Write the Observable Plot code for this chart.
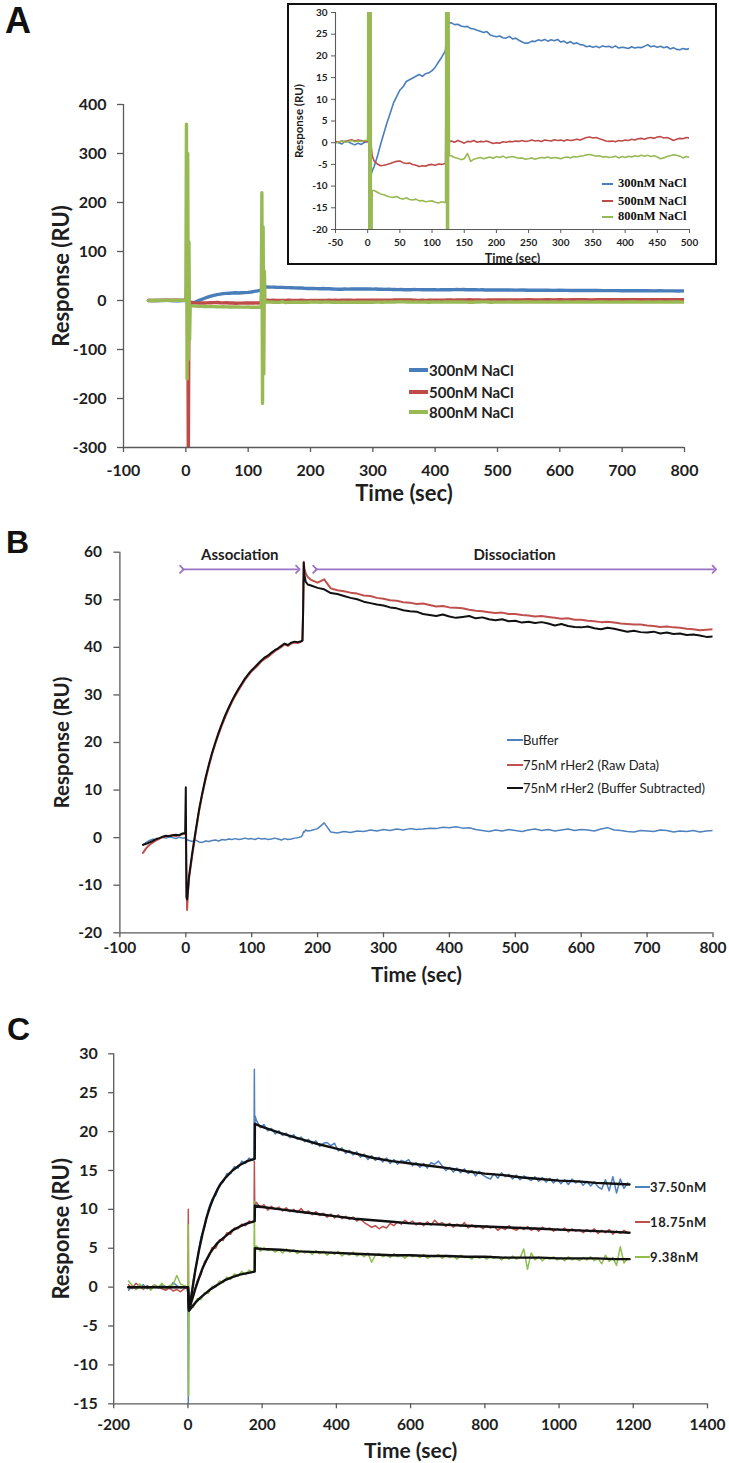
<!DOCTYPE html>
<html><head><meta charset="utf-8">
<script src="https://cdn.jsdelivr.net/npm/d3@7"></script>
<script src="https://cdn.jsdelivr.net/npm/@observablehq/plot@0.6"></script>
<style>
html,body{margin:0;padding:0;background:#fff;}
#page{position:relative;width:729px;height:1463px;overflow:hidden;font-family:Lato,sans-serif;color:#1e1e1e;}
.plab{position:absolute;font-family:"Liberation Sans",Arial,sans-serif;font-weight:bold;line-height:1;color:#111;}
.leg{position:absolute;white-space:nowrap;line-height:1;}
.sw{position:absolute;}
</style></head><body><div id="page"></div>
<script>
// ---------------- Panel A: NaCl concentrations ----------------
const saltNames = ["300nM NaCl", "500nM NaCl", "800nM NaCl"];
const saltColors = ["#4a7ebb", "#be4b48", "#98b954"];
const tA = [...d3.range(-60, 0, 5), 0, 1, 2, 3, 4, 5, 6, 7, ...d3.range(10, 121, 5),
  121, 122, 123, 124, 125, 126, 127, ...d3.range(130, 501, 5), ...d3.range(510, 801, 10)];
const a300 = [
  0.1, -0.2, 0.3, 0.0, -0.3, 0.4, 0.2, -0.2, -0.5, -0.1, -0.4, 0.1,
  0.2, 8, 20, -10, -8, -7.5, -7, -6.5,
  -5.5, -3.2, -0.4, 2.1, 4.6, 6.8, 9.1, 10.6, 12.1, 12.9, 14.1, 14.5, 14.9, 15.3, 15.7, 15.3, 15.9, 16.1, 16.6, 17.4, 18.6, 19.7, 21.0,
  21.5, 24, 40, 20, 28, 27.8, 27.6,
  27.6, 27.2, 27.3, 26.9, 26.7, 26.8, 26.3, 26.2, 25.9, 25.7,
  25.4, 25.6, 24.9, 24.6, 24.4, 24.6, 24.2, 24.1, 24.5, 23.9,
  24.1, 23.6, 23.2, 22.9, 23.0, 23.4, 23.3, 23.7, 23.5, 23.8,
  23.4, 23.7, 23.5, 23.8, 23.2, 23.4, 22.9, 23.3, 22.8, 23.0,
  22.6, 22.5, 22.1, 22.3, 22.0, 22.2, 21.9, 22.3, 22.1, 22.2,
  21.9, 22.3, 21.8, 22.0, 21.9, 21.7, 22.1, 21.8, 22.0, 21.9,
  22.2, 22.6, 22.1, 22.3, 22.0, 22.2, 21.9, 22.1, 21.6, 21.9,
  21.5, 21.4, 21.7, 21.5, 21.7,
  21.5, 21.4, 21.2, 21.3, 21.0, 20.9, 21.0, 20.8, 20.7, 20.8,
  20.6, 20.5, 20.6, 20.4, 20.3, 20.4, 20.2, 20.1, 20.2, 20.0,
  19.9, 20.0, 19.8, 19.9, 19.7, 19.8, 19.6, 19.7, 19.5, 19.6
];
const a500 = [
  0.2, -0.1, 0.3, 0.1, 0.4, 0.2, 0.5, 0.7, 0.4, 0.6, 0.5, 0.3,
  0.3, 10, 60, 120, -320, 0, -1.5, -3,
  -4.2, -4.9, -5.3, -5.2, -5.0, -4.8, -4.5, -4.3, -4.2, -4.6, -4.8, -4.7, -5.0, -5.2, -5.5, -5.3, -5.4, -5.1, -5.0, -5.2, -4.9, -5.0, -4.8,
  -4.8, 20, 80, -10, 2, 0.5, 0.2,
  0.4, 0.1, 0.5, 0.2, -0.1, 0.3, 0.2, 0.5, 0.1, 0.3,
  0.2, 0.4, 0.1, -0.2, 0.0, -0.1, 0.2, 0.1, 0.3, 0.2,
  0.4, 0.3, 0.5, 0.3, 0.4, 0.6, 0.4, 0.5, 0.3, 0.6,
  0.5, 0.4, 0.7, 0.5, 0.6, 0.4, 0.7, 0.5, 0.6, 0.8,
  0.6, 0.9, 1.2, 1.3, 1.1, 1.2, 0.9, 0.7, 0.4, 0.3,
  0.4, 0.2, 0.5, 0.4, 0.6, 0.5, 0.8, 0.6, 0.9, 1.0,
  0.8, 1.1, 1.2, 1.0, 1.3, 1.4, 1.1, 1.2, 0.9, 0.5,
  0.8, 1.0, 0.9, 1.2, 1.1,
  1.2, 1.0, 1.3, 1.1, 1.4, 1.2, 1.3, 1.5, 1.2, 1.4,
  1.3, 1.5, 1.4, 1.6, 1.3, 1.5, 1.4, 1.6, 1.5, 1.7,
  1.5, 1.6, 1.4, 1.7, 1.5, 1.6, 1.8, 1.6, 1.7, 1.6
];
const a800 = [
  0.1, 0.3, -0.1, 0.2, 0.4, 0.1, 0.3, 0.5, 0.2, 0.4, 0.3, 0.5,
  0.5, 360, -160, 300, -120, 120, -80, -11,
  -11.0, -11.4, -11.8, -12.0, -12.3, -12.5, -12.6, -12.4, -12.8, -13.0, -12.7, -13.1, -13.2, -13.0, -13.4, -13.3, -13.6, -13.5, -13.4, -13.7, -13.9, -13.6, -13.8,
  -13.5, 220, -210, 150, -150, 60, -3,
  -3.0, -3.4, -3.6, -3.9, -3.7, -2.5, -4.3, -3.8, -3.6, -3.4,
  -3.7, -3.5, -3.3, -3.6, -3.2, -3.4, -3.1, -3.5, -3.3, -3.2,
  -3.4, -3.6, -3.5, -3.8, -3.7, -3.5, -3.8, -3.6, -3.4, -3.5,
  -3.3, -3.6, -3.4, -3.5, -3.7, -3.4, -3.3, -3.5, -3.2, -3.3,
  -3.1, -3.0, -2.8, -2.7, -2.9, -3.1, -3.0, -3.3, -3.2, -3.4,
  -3.3, -3.1, -3.5, -3.2, -3.4, -3.1, -3.3, -3.0, -3.2, -2.9,
  -3.1, -2.9, -3.2, -3.0, -3.3, -3.7, -3.5, -3.2, -3.0, -2.8,
  -2.9, -3.1, -3.5, -3.2, -3.4,
  -3.3, -3.1, -3.4, -3.2, -3.0, -3.3, -3.1, -3.4, -3.2, -3.3,
  -3.1, -3.4, -3.2, -3.0, -3.3, -3.1, -3.2, -3.4, -3.1, -3.3,
  -3.2, -3.0, -3.3, -3.1, -3.4, -3.2, -3.3, -3.1, -3.2, -3.3
];
const ticksAX = [-100, 0, 100, 200, 300, 400, 500, 600, 700, 800];
const ticksAY = [-300, -200, -100, 0, 100, 200, 300, 400];
const ticksInX = [-50, 0, 50, 100, 150, 200, 250, 300, 350, 400, 450, 500];
const ticksInY = [-20, -15, -10, -5, 0, 5, 10, 15, 20, 25, 30];

// ---------------- Panel B: rHer2 75nM ----------------
const herNames = ["Buffer", "75nM rHer2 (Raw Data)", "75nM rHer2 (Buffer Subtracted)"];
const herColors = ["#4f81bd", "#c0504d", "#111111"];
const tB = [...d3.range(-65, 0, 5), -1, 0, 1, 2, 3, ...d3.range(5, 176, 5),
  177, 178, 179, 180, 182, 185, ...d3.range(190, 801, 10)];
const bBuffer = [
  -1.6, -1.0, -0.6, -0.3, -0.5, -0.2, 0.1, -0.1, 0.2, 0.0, -0.2, 0.1, -0.1,
  0.0, -0.3, -0.6, -0.4, -0.5,
  -0.6, -0.8, -0.5, -0.9, -1.0, -0.7, -0.8, -0.6, -0.5, -0.7, -0.4, -0.5, -0.3, -0.4, -0.2, -0.4, -0.3, -0.1,
  -0.3, -0.2, -0.4, -0.1, -0.3, -0.2, -0.4, -0.3, -0.1, -0.3, -0.5, -0.2, -0.4, -0.3, -0.1, 0.0, 0.2,
  0.5, 1.0, 1.3, 1.2, 1.6, 1.4,
  1.5, 1.9, 3.1, 1.2, 1.0, 1.3, 1.1, 1.4, 1.3, 1.6,
  1.4, 1.7, 1.5, 1.8, 1.6, 1.9, 1.7, 1.8, 2.0, 1.9,
  2.2, 2.1, 2.3, 2.0, 2.1, 1.7, 1.5, 1.3, 1.6, 1.4,
  1.7, 1.5, 1.3, 1.6, 1.8, 1.5, 1.7, 1.4, 1.6, 1.8,
  1.5, 1.7, 1.6, 1.4, 1.8, 2.1, 1.6, 1.5, 1.3, 1.2,
  1.5, 1.4, 1.3, 1.6, 1.5, 1.2, 1.4, 1.3, 1.5, 1.2,
  1.4, 1.5
];
const bRaw = [
  -3.2, -2.2, -1.5, -1.0, -0.6, -0.2, 0.1, 0.3, 0.4, 0.5, 0.3, 0.6, 0.7,
  0.8, 0.6, -8, -15.2, -12,
  -8.5, -3.5, 1.0, 5.5, 9.0, 12.2, 15.0, 17.6, 19.8, 21.8, 23.7, 25.4, 27.0, 28.5, 29.8, 31.0, 32.1, 33.2,
  34.1, 35.0, 35.6, 36.3, 37.1, 37.6, 38.0, 38.6, 39.2, 39.6, 40.1, 40.6, 40.3, 40.8, 41.0, 40.9, 41.2,
  41.5, 48, 58, 56.5, 55.5, 54.8,
  54.2, 53.6, 54.3, 52.4, 52.0, 51.8, 51.5, 51.3, 50.9, 50.8,
  50.4, 50.2, 49.9, 49.8, 49.5, 49.4, 49.1, 49.2, 48.9, 48.6,
  48.7, 48.4, 48.3, 48.2, 47.9, 47.7, 47.6, 47.4, 47.2, 47.3,
  47.0, 47.0, 46.8, 46.7, 46.5, 46.6, 46.4, 46.2, 46.0, 46.1,
  45.8, 45.8, 45.6, 45.5, 45.3, 45.4, 45.2, 45.0, 44.9, 44.8,
  44.8, 44.6, 44.5, 44.3, 44.4, 44.2, 44.1, 43.9, 43.8, 43.6,
  43.7, 43.8
];
const bSub = [
  -1.5, -1.3, -1.0, -0.7, -0.3, -0.1, 0.2, 0.4, 0.3, 0.5, 0.6, 0.5, 0.9,
  1.0, 10.6, -12.5, -13, -11.5,
  -8.0, -3.0, 1.5, 5.8, 9.4, 12.6, 15.4, 17.9, 20.1, 22.2, 24.0, 25.8, 27.3, 28.8, 30.1, 31.3, 32.4, 33.5,
  34.4, 35.2, 35.9, 36.6, 37.3, 37.9, 38.3, 38.9, 39.4, 39.8, 40.3, 40.8, 40.5, 41.0, 41.2, 41.1, 41.3,
  41.4, 47, 57.8, 55.2, 53.8, 53.2,
  53.0, 52.5, 52.2, 51.4, 51.2, 50.8, 50.4, 50.1, 49.6, 49.3,
  49.0, 48.8, 48.4, 48.2, 47.8, 47.6, 47.5, 47.0, 46.8, 46.6,
  46.9, 46.5, 46.2, 46.4, 46.6, 46.1, 46.3, 45.9, 45.7, 45.9,
  45.5, 45.6, 45.2, 45.4, 45.1, 45.3, 45.0, 44.6, 44.9, 44.5,
  44.3, 44.2, 44.4, 44.0, 43.8, 44.1, 43.9, 43.6, 43.3, 43.5,
  43.2, 43.1, 43.3, 42.9, 43.1, 42.8, 42.9, 42.6, 42.7, 42.5,
  42.2, 42.3
];
const phaseNames = ["Association", "Dissociation"];
const phaseFrom = [-6, 196];
const phaseTo = [170, 802];
const phaseArrowY = 56.4;
const phaseTextY = 59.4;
const ticksBX = [-100, 0, 100, 200, 300, 400, 500, 600, 700, 800];
const ticksBY = [-20, -10, 0, 10, 20, 30, 40, 50, 60];

// ---------------- Panel C: concentration series + fits ----------------
const concNames = ["37.50nM", "18.75nM", "9.38nM"];
const concColors = ["#4f81bd", "#c0504d", "#8fbf4f"];
const tC = [...d3.range(-160, 0, 10), 0, 1, 2, 3, ...d3.range(5, 176, 10),
  178, 179, 180, 181, ...d3.range(185, 1186, 10)];
const c375 = [
  -0.4, 0.2, -0.3, 0.1, 0.3, -0.2, 0.0, 0.2, -0.1, 0.3, 0.1, -0.2, 0.6, 0.2, -0.1, 0.1,
  0.0, -16, -3.5, -2.8,
  -2.3, 1.1, 3.4, 6.4, 7.7, 10.0, 11.3, 11.8, 13.2, 13.5, 14.6, 14.6, 15.5, 15.3, 16.2, 15.9, 16.6, 16.3,
  16.8, 28, 19, 22,
  21.4, 20.5, 20.9, 20.1, 20.4, 19.7, 20.1, 19.5, 19.8, 19.2,
  19.6, 19.0, 19.3, 18.7, 19.0, 18.4, 18.8, 18.1, 18.5, 18.6,
  18.2, 18.5, 17.5, 17.9, 17.2, 17.6, 17.0, 17.4, 16.7, 17.1,
  16.4, 16.9, 16.3, 16.7, 16.1, 16.6, 15.9, 16.4, 15.8, 16.3,
  16.1, 16.4, 15.6, 16.0, 15.4, 15.9, 15.3, 16.0, 15.8, 16.2,
  15.6, 15.0, 15.4, 14.8, 15.3, 14.7, 15.2, 14.6, 15.0, 14.3,
  14.9, 14.4, 14.1, 13.9, 14.6, 14.0, 14.7, 14.2, 14.5, 13.9,
  14.4, 13.8, 14.3, 14.0, 13.7, 14.2, 13.6, 14.1, 13.5, 14.0,
  13.4, 13.9, 13.3, 13.8, 13.2, 13.9, 13.4, 13.7, 13.1, 13.6,
  13.0, 13.5, 12.9, 12.6, 13.8, 12.4, 14.2, 12.1, 13.9, 12.7,
  13.4
];
const c1875 = [
  0.3, -0.2, 0.5, 0.1, -0.3, 0.2, -0.1, 0.3, 0.0, -0.2, -0.4, -0.1, -0.5, -0.3, -0.6, -0.2,
  0.0, 10, -2, -2.8,
  -2.2, -1.1, 0.8, 1.6, 3.3, 3.8, 5.1, 5.0, 6.1, 6.0, 7.0, 6.8, 7.6, 7.5, 8.1, 7.9, 8.5, 8.3,
  8.6, 16.2, 11, 10.8,
  10.9, 10.2, 10.6, 9.9, 10.4, 10.0, 10.3, 9.8, 10.2, 9.7,
  10.0, 9.6, 10.1, 9.5, 9.8, 9.3, 9.7, 9.2, 9.5, 9.0,
  9.4, 8.9, 9.3, 8.8, 9.1, 8.7, 9.0, 8.5, 8.8, 8.3,
  8.0, 7.7, 7.9, 7.5, 7.8, 7.6, 8.2, 7.9, 8.4, 8.1,
  8.6, 8.2, 8.5, 8.0, 8.3, 7.9, 8.4, 8.0, 8.6, 8.1,
  8.3, 7.8, 8.2, 7.7, 8.1, 7.8, 8.3, 7.6, 8.0, 7.7,
  7.9, 7.5, 7.9, 7.6, 7.8, 7.3, 7.7, 7.4, 7.9, 7.5,
  7.3, 7.7, 7.4, 7.8, 7.3, 7.6, 7.2, 7.7, 7.4, 7.6,
  7.2, 7.5, 7.3, 7.6, 7.1, 7.5, 7.2, 7.4, 7.0, 7.4,
  7.1, 7.5, 6.9, 7.3, 7.0, 7.4, 6.8, 7.2, 6.9, 7.3,
  7.0
];
const c938 = [
  0.8, 0.2, -0.3, 0.4, -0.2, 0.1, -0.4, 0.3, 0.0, 0.5, -0.2, 0.2, 0.3, 1.5, 0.4, 0.2,
  0.0, 8, -14, -3.2,
  -2.5, -2.6, -1.5, -1.6, -0.7, -0.8, 0.1, 0.0, 0.8, 0.6, 1.3, 1.0, 1.7, 1.4, 2.0, 1.6, 2.2, 1.9,
  2.1, 11, 4, 5.2,
  5.3, 4.6, 5.1, 4.7, 4.9, 4.5, 4.8, 4.4, 4.9, 4.5,
  4.8, 4.3, 4.7, 4.4, 4.6, 4.2, 4.7, 4.3, 4.6, 4.1,
  4.5, 4.2, 4.6, 4.0, 4.4, 4.1, 4.5, 4.0, 4.3, 3.9,
  4.4, 3.2, 4.1, 4.3, 3.9, 4.2, 3.8, 4.3, 3.9, 4.1,
  3.7, 4.2, 3.9, 4.1, 3.8, 4.2, 3.7, 4.0, 3.9, 4.2,
  3.7, 4.1, 3.8, 4.0, 3.6, 4.1, 3.8, 3.9, 3.6, 4.0,
  3.7, 3.9, 3.6, 4.0, 3.7, 3.9, 3.5, 3.9, 3.6, 4.0,
  3.6, 3.8, 4.9, 2.3, 4.4, 3.5, 3.9, 3.4, 3.8, 3.6,
  3.9, 3.5, 3.8, 3.4, 3.9, 3.5, 3.7, 3.4, 3.8, 3.5,
  3.9, 3.4, 3.7, 3.0, 4.1, 3.3, 3.8, 2.8, 5.2, 3.1,
  3.7
];
const fitT = [-160, 0, 3, 10, 20, 30, 40, 50, 60, 70, 80, 90, 100, 120, 140, 160, 180,
  180.5, 200, 250, 300, 350, 400, 450, 500, 550, 600, 650, 700, 750, 800, 850, 900, 950, 1000, 1050, 1100, 1150, 1190];
const fit375 = [0, 0, -3.0, -0.9, 2.2, 4.8, 7.0, 8.9, 10.4, 11.6, 12.6, 13.4, 14.0, 15.0, 15.7, 16.2, 16.5,
  21.0, 20.6, 19.8, 19.1, 18.4, 17.8, 17.2, 16.6, 16.2, 15.9, 15.6, 15.3, 14.9, 14.6, 14.4, 14.1, 13.9, 13.7, 13.6, 13.4, 13.3, 13.2];
const fit1875 = [0, 0, -3.0, -1.8, -0.2, 1.2, 2.5, 3.5, 4.4, 5.1, 5.7, 6.1, 6.5, 7.3, 7.8, 8.2, 8.5,
  10.5, 10.3, 10.0, 9.7, 9.4, 9.1, 8.8, 8.6, 8.4, 8.2, 8.1, 8.0, 7.9, 7.8, 7.7, 7.6, 7.5, 7.4, 7.3, 7.2, 7.1, 7.0];
const fit938 = [0, 0, -3.0, -2.6, -2.0, -1.5, -1.1, -0.7, -0.3, 0.0, 0.3, 0.6, 0.9, 1.3, 1.6, 1.8, 2.0,
  5.0, 4.9, 4.8, 4.6, 4.5, 4.4, 4.3, 4.2, 4.1, 4.1, 4.0, 4.0, 3.9, 3.9, 3.8, 3.8, 3.8, 3.7, 3.7, 3.7, 3.6, 3.6];
const ticksCX = [-200, 0, 200, 400, 600, 800, 1000, 1200, 1400];
const ticksCY = [-15, -10, -5, 0, 5, 10, 15, 20, 25, 30];

// ---------------- helpers ----------------
function zip(times, values, name) {
  const n = Math.min(times.length, values.length), out = [];
  for (let i = 0; i < n; i++) out.push({t: times[i], v: values[i], s: name});
  return out;
}
const fmt = d => String(d);
const axisCol = "#5a5a5a";
const txtCol = "#1e1e1e";
const page = document.getElementById("page");
function place(el, left, top, parent = page) {
  el.style.position = "absolute"; el.style.left = left + "px"; el.style.top = top + "px";
  parent.appendChild(el); return el;
}
function div(cls, html, css) {
  const d = document.createElement("div"); if (cls) d.className = cls;
  if (html != null) d.textContent = html; Object.assign(d.style, css || {}); return d;
}
function legend(names, colors, {x0, x1, xt, ys, sw, font, parent = page}) {
  names.forEach((n, i) => {
    const s = div("sw", null, {width: (x1 - x0) + "px", height: sw + "px", background: colors[i]});
    place(s, x0, ys[i] - sw / 2, parent);
    const t = div("leg", n, font);
    place(t, xt, 0, parent);
    const h = t.getBoundingClientRect().height;
    t.style.top = (ys[i] - h / 2) + "px";
  });
}
function xTitle(label, dy, size) {
  return Plot.text([label], {text: d => d, frameAnchor: "bottom", lineAnchor: "middle", textAnchor: "middle", dy, fontSize: size, fontWeight: "bold", fill: txtCol});
}
function yTitle(label, dx, size) {
  return Plot.text([label], {text: d => d, frameAnchor: "left", lineAnchor: "middle", textAnchor: "middle", dx, rotate: -90, fontSize: size, fontWeight: "bold", fill: txtCol});
}
const baseStyle = {fontFamily: "Lato, sans-serif", color: txtCol, background: "transparent", overflow: "visible"};

// ---------------- Panel A main ----------------
const dataA = [...zip(tA, a300, saltNames[0]), ...zip(tA, a500, saltNames[1]), ...zip(tA, a800, saltNames[2])];
const plotA = Plot.plot({
  width: 729, height: 505, marginLeft: 123, marginRight: 45, marginTop: 104, marginBottom: 58,
  style: baseStyle,
  x: {domain: [-100, 800]}, y: {domain: [-300, 400]},
  color: {domain: saltNames, range: saltColors},
  marks: [
    Plot.line(dataA, {x: "t", y: "v", z: "s", stroke: "s", strokeWidth: 3.4, clip: true}),
    Plot.ruleX([-100], {stroke: axisCol, strokeWidth: 1.3}),
    Plot.ruleY([-300], {stroke: axisCol, strokeWidth: 1.3}),
    Plot.axisX({ticks: ticksAX, tickFormat: fmt, tickSize: 5, tickPadding: 12, fontSize: 16, fontWeight: "bold", stroke: axisCol, strokeWidth: 1.3, label: null}),
    Plot.axisY({ticks: ticksAY, tickFormat: fmt, tickSize: 6, tickPadding: 11, fontSize: 16, fontWeight: "bold", stroke: axisCol, strokeWidth: 1.3, label: null}),
    xTitle("Time (sec)", 46, 22),
    yTitle("Response (RU)", -62, 22)
  ]
});
place(plotA, 0, 0);
legend(saltNames, saltColors, {x0: 409, x1: 428, xt: 429, ys: [370, 392, 412], sw: 3.5,
  font: {fontFamily: "Lato, sans-serif", fontSize: "15px", fontWeight: "bold", color: "#222"}});

// ---------------- Panel A inset ----------------
const inset = div(null, null, {width: "430px", height: "262px", border: "2px solid #111", boxSizing: "border-box", background: "#fff", zIndex: 2});
place(inset, 287, 3);
const plotIn = Plot.plot({
  width: 426, height: 258, marginLeft: 46, marginRight: 26, marginTop: 7, marginBottom: 34,
  style: baseStyle,
  x: {domain: [-50, 500]}, y: {domain: [-20, 30]},
  color: {domain: saltNames, range: saltColors},
  marks: [
    Plot.line(dataA.filter(d => d.t >= -50 && d.t <= 500), {x: "t", y: "v", z: "s", stroke: "s", strokeWidth: 1.6, clip: true}),
    Plot.ruleX([-50], {stroke: axisCol, strokeWidth: 1.1}),
    Plot.ruleY([-20], {stroke: axisCol, strokeWidth: 1.1}),
    Plot.axisX({ticks: ticksInX, tickFormat: fmt, tickSize: 4, tickPadding: 5, fontSize: 10, fontWeight: "bold", stroke: axisCol, label: null}),
    Plot.axisY({ticks: ticksInY, tickFormat: fmt, tickSize: 4, tickPadding: 4, fontSize: 10, fontWeight: "bold", stroke: axisCol, label: null}),
    xTitle("Time (sec)", 29, 12.5),
    yTitle("Response (RU)", -36, 11.5)
  ]
});
place(plotIn, 0, 0, inset);
legend(saltNames, saltColors, {x0: 313, x1: 324, xt: 329, ys: [178.5, 196, 211.5], sw: 2, parent: inset,
  font: {fontFamily: "'Liberation Serif', 'Times New Roman', serif", fontSize: "12.5px", fontWeight: "bold", color: "#111"}});

// ---------------- Panel B ----------------
const dataB = [...zip(tB, bBuffer, herNames[0]), ...zip(tB, bRaw, herNames[1]), ...zip(tB, bSub, herNames[2])];
const phases = phaseNames.map((n, i) => ({name: n, from: phaseFrom[i], to: phaseTo[i], mid: (phaseFrom[i] + phaseTo[i]) / 2}));
const plotB = Plot.plot({
  width: 729, height: 480, marginLeft: 119.4, marginRight: 16.5, marginTop: 31.7, marginBottom: 67.7,
  style: baseStyle,
  x: {domain: [-100, 800]}, y: {domain: [-20, 60]},
  color: {domain: herNames, range: herColors},
  marks: [
    Plot.line(dataB, {x: "t", y: "v", z: "s", stroke: "s", strokeWidth: d => d.s === herNames[0] ? 1.5 : 2, clip: true}),
    Plot.link(phases, {x1: "from", x2: "to", y1: () => phaseArrowY, y2: () => phaseArrowY, stroke: "#9b72c4", strokeWidth: 1.8, markerStart: "arrow", markerEnd: "arrow"}),
    Plot.text(phases, {x: "mid", y: () => phaseTextY, text: "name", fontSize: 15, fontWeight: "bold", fill: txtCol}),
    Plot.ruleX([-100], {stroke: axisCol, strokeWidth: 1.3}),
    Plot.ruleY([-20], {stroke: axisCol, strokeWidth: 1.3}),
    Plot.axisX({ticks: ticksBX, tickFormat: fmt, tickSize: 5, tickPadding: 4, fontSize: 15.5, fontWeight: "bold", stroke: axisCol, strokeWidth: 1.3, label: null}),
    Plot.axisY({ticks: ticksBY, tickFormat: fmt, tickSize: 6, tickPadding: 12, fontSize: 15.5, fontWeight: "bold", stroke: axisCol, strokeWidth: 1.3, label: null}),
    xTitle("Time (sec)", 43, 20.5),
    yTitle("Response (RU)", -57, 20.5)
  ]
});
place(plotB, 0, 520);
legend(herNames, herColors, {x0: 507, x1: 523, xt: 523, ys: [740, 765, 788], sw: 2.2,
  font: {fontFamily: "Lato, sans-serif", fontSize: "13px", color: "#222"}});

// ---------------- Panel C ----------------
const dataC = [...zip(tC, c375, concNames[0]), ...zip(tC, c1875, concNames[1]), ...zip(tC, c938, concNames[2])];
const fitsC = [...zip(fitT, fit375, concNames[0]), ...zip(fitT, fit1875, concNames[1]), ...zip(fitT, fit938, concNames[2])];
const plotC = Plot.plot({
  width: 729, height: 463, marginLeft: 113.2, marginRight: 22, marginTop: 53.3, marginBottom: 59.7,
  style: baseStyle,
  x: {domain: [-200, 1400]}, y: {domain: [-15, 30]},
  color: {domain: concNames, range: concColors},
  marks: [
    Plot.line(dataC, {x: "t", y: "v", z: "s", stroke: "s", strokeWidth: 1.5, clip: true}),
    Plot.line(fitsC, {x: "t", y: "v", z: "s", stroke: "#111", strokeWidth: 2.4, clip: true}),
    Plot.ruleX([-200], {stroke: axisCol, strokeWidth: 1.3}),
    Plot.ruleY([-15], {stroke: axisCol, strokeWidth: 1.3}),
    Plot.axisX({ticks: ticksCX, tickFormat: fmt, tickSize: 5, tickPadding: 10, fontSize: 15.5, fontWeight: "bold", stroke: axisCol, strokeWidth: 1.3, label: null}),
    Plot.axisY({ticks: ticksCY, tickFormat: fmt, tickSize: 5, tickPadding: 11, fontSize: 16, fontWeight: "bold", stroke: axisCol, strokeWidth: 1.3, label: null}),
    xTitle("Time (sec)", 47, 21),
    yTitle("Response (RU)", -52, 22)
  ]
});
place(plotC, 0, 1000);
legend(concNames, concColors, {x0: 635, x1: 650, xt: 650, ys: [1187, 1222, 1257], sw: 2.2,
  font: {fontFamily: "Lato, sans-serif", fontSize: "13px", fontWeight: "bold", letterSpacing: "0.6px", color: "#222"}});

// ---------------- Panel letters ----------------
place(div("plab", "A", {fontSize: "36px"}), 5, 3);
place(div("plab", "B", {fontSize: "32px"}), 6, 526);
place(div("plab", "C", {fontSize: "32px"}), 7, 1013);
</script></body></html>
